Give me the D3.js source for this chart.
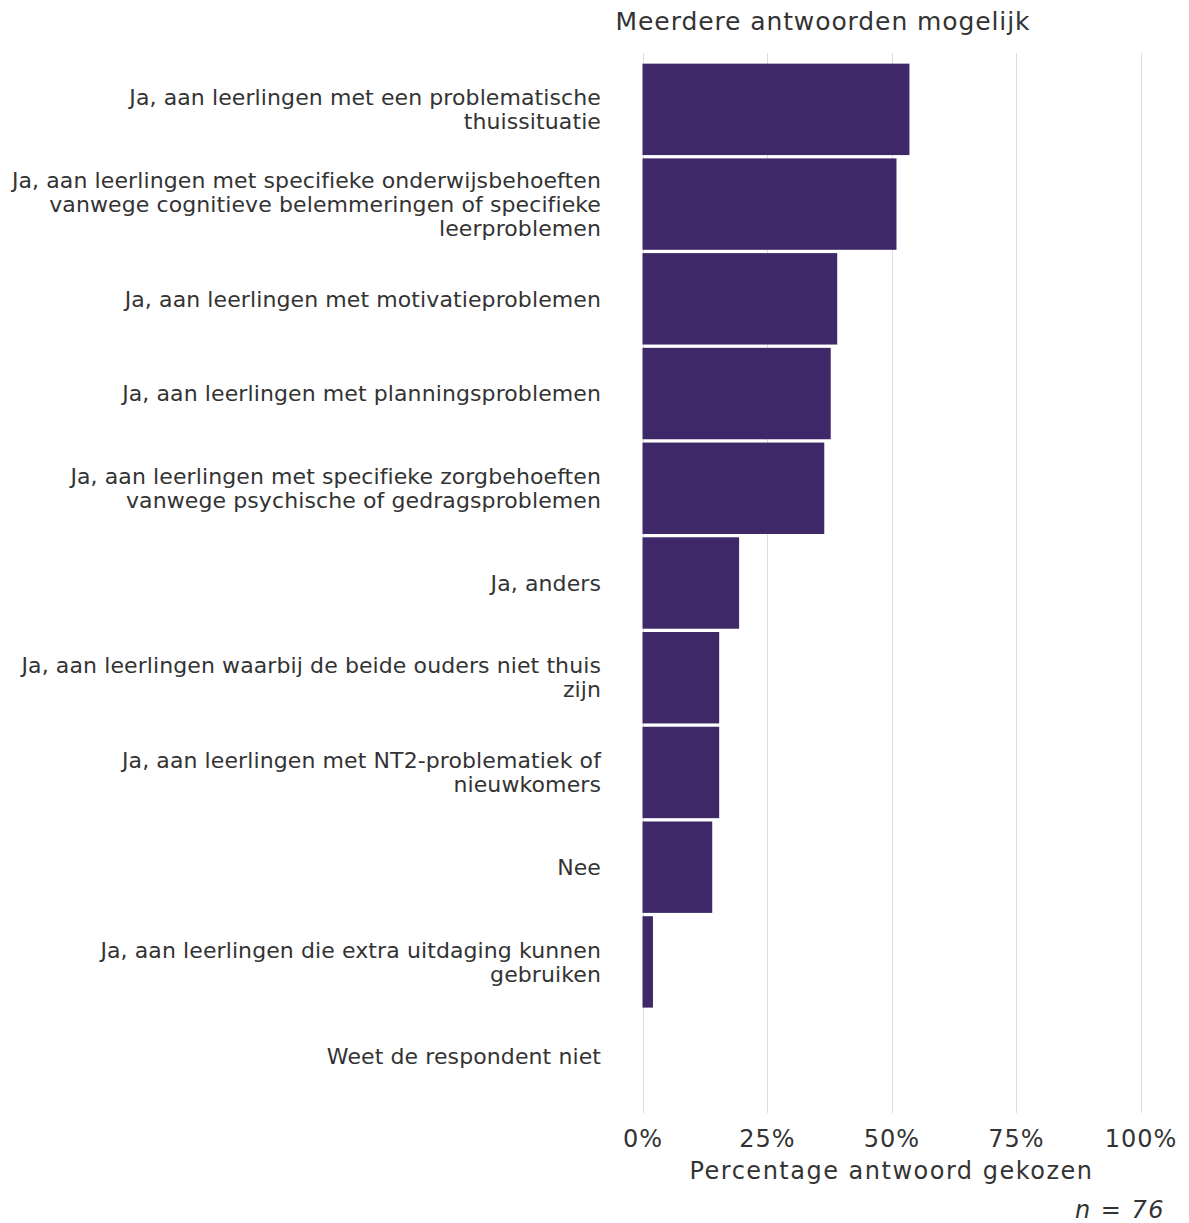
<!DOCTYPE html>
<meta charset="utf-8">
<style>
    body { margin: 0; background: #fff; }
    text { font-family: "DejaVu Sans", Verdana, sans-serif; fill: #333; }
    .grid line { stroke: #dcdbe6; stroke-width: 1px; }
</style>
<body>
<script src="https://d3js.org/d3.v7.min.js"></script>
<script>
    var width = 1189,
        height = 1223;

    // answer categories, top to bottom (\n = line break in label)
    var categories = [
        "Ja, aan leerlingen met een problematische\nthuissituatie",
        "Ja, aan leerlingen met specifieke onderwijsbehoeften\nvanwege cognitieve belemmeringen of specifieke\nleerproblemen",
        "Ja, aan leerlingen met motivatieproblemen",
        "Ja, aan leerlingen met planningsproblemen",
        "Ja, aan leerlingen met specifieke zorgbehoeften\nvanwege psychische of gedragsproblemen",
        "Ja, anders",
        "Ja, aan leerlingen waarbij de beide ouders niet thuis\nzijn",
        "Ja, aan leerlingen met NT2-problematiek of\nnieuwkomers",
        "Nee",
        "Ja, aan leerlingen die extra uitdaging kunnen\ngebruiken",
        "Weet de respondent niet"
    ];

    // percentage chosen
    var percentages = [53.6, 51.0, 39.1, 37.8, 36.5, 19.4, 15.4, 15.4, 14.0, 2.1, 0];

    var tickValues = [0, 25, 50, 75, 100];

    var data = categories.map(function (c, i) {
        return { label: c, value: percentages[i] };
    });

    var svg = d3.select("body").append("svg")
        .attr("width", width)
        .attr("height", height);

    var x = d3.scaleLinear()
        .domain([0, 100])
        .range([642.5, 1140.5]);

    var y = d3.scaleBand()
        .domain(categories)
        .range([62, 1104])
        .paddingInner(0.035)
        .paddingOuter(0.0175);

    // vertical grid lines
    svg.append("g")
        .attr("class", "grid")
        .selectAll("line")
        .data(tickValues)
        .enter().append("line")
        .attr("x1", function (d) { return Math.round(x(d)) + 0.5; })
        .attr("x2", function (d) { return Math.round(x(d)) + 0.5; })
        .attr("y1", 53)
        .attr("y2", 1113);

    // bars
    svg.append("g")
        .selectAll("rect")
        .data(data)
        .enter().append("rect")
        .attr("x", x(0))
        .attr("y", function (d) { return y(d.label); })
        .attr("width", function (d) { return x(d.value) - x(0); })
        .attr("height", y.bandwidth())
        .attr("fill", "#3e2868");

    // category labels
    var lineHeight = 24;
    var labels = svg.append("g")
        .selectAll("text")
        .data(data)
        .enter().append("text")
        .attr("text-anchor", "end")
        .style("font-size", "22px")
        .style("letter-spacing", "0.1px")
        .attr("transform", function (d) {
            var n = d.label.split("\n").length;
            var cy = y(d.label) + y.bandwidth() / 2 - (n - 1) * lineHeight / 2;
            return "translate(601," + cy + ")";
        });

    labels.selectAll("tspan")
        .data(function (d) { return d.label.split("\n"); })
        .enter().append("tspan")
        .attr("x", 0)
        .attr("dy", function (d, i) { return i === 0 ? "0.35em" : lineHeight; })
        .text(function (d) { return d; });

    // x axis tick labels
    var xAxis = d3.axisBottom(x)
        .tickValues(tickValues)
        .tickSize(0)
        .tickPadding(0)
        .tickFormat(function (d) { return d + "%"; });

    var axisG = svg.append("g")
        .attr("transform", "translate(0,1130)")
        .call(xAxis);
    axisG.select(".domain").remove();
    axisG.selectAll("text")
        .style("font-size", "24px")
        .style("letter-spacing", "1px")
        .attr("fill", "#333")
        .style("font-family", "\"DejaVu Sans\", Verdana, sans-serif");

    // axis title
    svg.append("text")
        .attr("x", x(50))
        .attr("y", 1179)
        .attr("text-anchor", "middle")
        .style("font-size", "24px")
        .style("letter-spacing", "1.5px")
        .text("Percentage antwoord gekozen");

    // chart title
    svg.append("text")
        .attr("x", 823)
        .attr("y", 30)
        .attr("text-anchor", "middle")
        .style("font-size", "25px")
        .style("letter-spacing", "0.9px")
        .text("Meerdere antwoorden mogelijk");

    // caption
    svg.append("text")
        .attr("x", 1165)
        .attr("y", 1218)
        .attr("text-anchor", "end")
        .style("font-size", "24px")
        .style("letter-spacing", "1.5px")
        .style("font-style", "italic")
        .text("n = 76");
</script>
</body>
